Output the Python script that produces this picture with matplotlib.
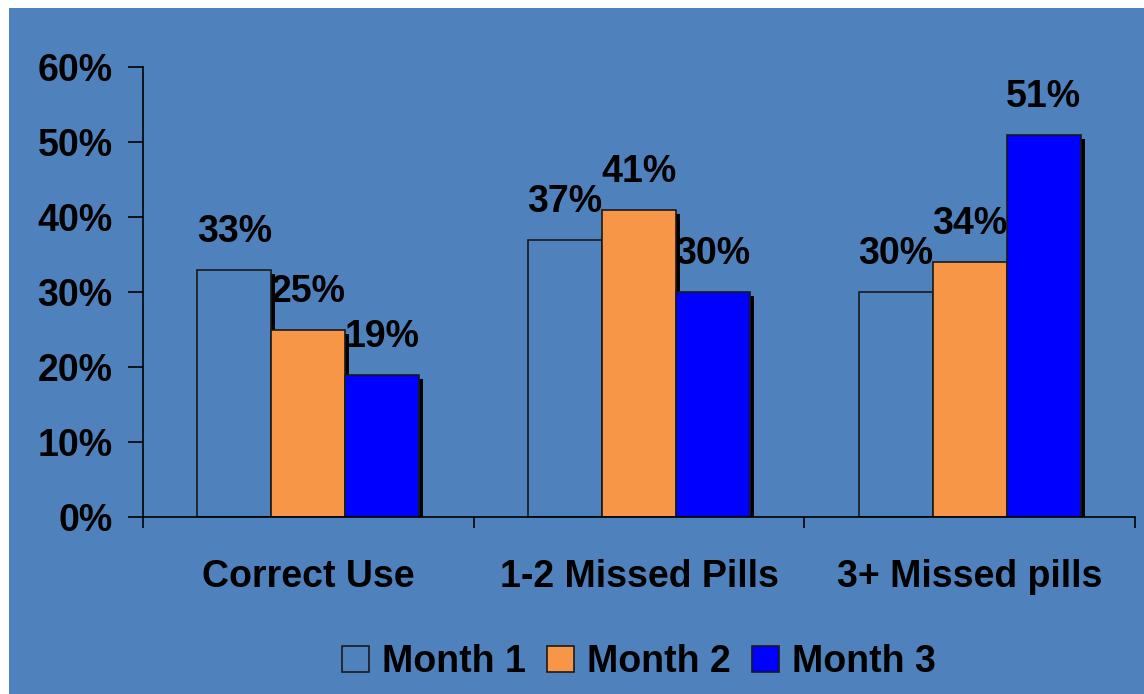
import matplotlib
matplotlib.use("Agg")
import matplotlib.pyplot as plt
import matplotlib.patches as mpatches
from matplotlib.transforms import offset_copy
import numpy as np

categories = ["Correct Use", "1-2 Missed Pills", "3+ Missed pills"]
series_names = ["Month 1", "Month 2", "Month 3"]
month1 = [33, 37, 30]
month2 = [25, 41, 34]
month3 = [19, 30, 51]
y_ticks = [0, 10, 20, 30, 40, 50, 60]

BG = "#4F81BD"
colors = [BG, "#F79646", "#0000FF"]
FS = 27

plt.rcParams["font.family"] = ["Liberation Sans", "DejaVu Sans"]
plt.rcParams["font.weight"] = "bold"

fig = plt.figure(figsize=(11.44, 6.94), dpi=100)
fig.patch.set_facecolor("white")
# coloured panel, with a thin white margin on the top and left
fig.patches.append(mpatches.Rectangle((9 / 1144, 0), 1 - 9 / 1144, 1 - 8 / 694,
                                      transform=fig.transFigure, facecolor=BG,
                                      edgecolor="none", zorder=-10))

ax = fig.add_axes([143 / 1144, (694 - 517) / 694, 992 / 1144, 450 / 694])
ax.set_facecolor("none")

x = np.arange(len(categories))
w = 0.224
offsets = [-w, 0, w]
data = [month1, month2, month3]

# drop shadows behind every bar
shadow_tr = offset_copy(ax.transData, fig=fig, x=4, y=-4, units="dots")
for vals, off in zip(data, offsets):
    ax.bar(x + off, vals, w, color="black", edgecolor="none",
           transform=shadow_tr, zorder=1)

for vals, off, c, name in zip(data, offsets, colors, series_names):
    ax.bar(x + off, vals, w, color=c, edgecolor="#1a1a1a", linewidth=1.2,
           zorder=2, label=name)
    for xi, v in zip(x + off, vals):
        ax.annotate(f"{v}%", (xi, v), xytext=(0, 27), textcoords="offset points",
                    ha="center", va="center", fontsize=FS, fontweight="bold",
                    color="black", zorder=3, annotation_clip=False)

ax.set_xlim(-0.5, 2.5)
ax.set_ylim(0, 60)
ax.set_yticks(y_ticks)
ax.set_yticklabels([f"{t}%" for t in y_ticks])
ax.set_xticks(x)
ax.set_xticklabels(categories)
ax.set_xticks([-0.5, 0.5, 1.5, 2.5], minor=True)

for s in ["top", "right"]:
    ax.spines[s].set_visible(False)
for s in ["left", "bottom"]:
    ax.spines[s].set_color("black")
    ax.spines[s].set_linewidth(1.2)

ax.tick_params(axis="y", direction="out", length=11, width=1.2, pad=11,
               labelsize=FS, colors="black")
ax.tick_params(axis="x", which="major", length=0, pad=30, labelsize=FS,
               colors="black")
ax.tick_params(axis="x", which="minor", direction="out", length=8, width=1.2,
               colors="black")
for lab in ax.get_xticklabels() + ax.get_yticklabels():
    lab.set_fontweight("bold")

leg = ax.legend(loc="center", bbox_to_anchor=(0.5, (694 - 662 - 177) / 450),
                ncol=3, frameon=False, fontsize=FS, handlelength=0.7,
                handleheight=0.7, handletextpad=0.35, columnspacing=0.58,
                borderaxespad=0)
for t in leg.get_texts():
    t.set_fontweight("bold")

fig.savefig("out.png", dpi=100, facecolor=fig.get_facecolor())
